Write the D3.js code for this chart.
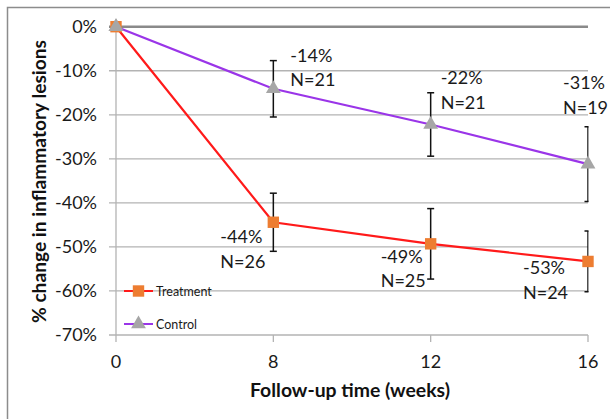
<!DOCTYPE html>
<html>
<head>
<meta charset="utf-8">
<script src="https://cdn.jsdelivr.net/npm/d3@7"></script>
<style>
  body { margin: 0; background: #fff; }
  svg { display: block; font-family: Lato, "Open Sans", sans-serif; }
</style>
</head>
<body>
<svg width="610" height="419"></svg>
<script>
const weeks = ["0", "8", "12", "16"];
const yTicks = [0, -10, -20, -30, -40, -50, -60, -70];

const treatment = [0, -44.4, -49.3, -53.3];
const treatmentErr = [0, 6.6, 8.0, 6.9];
const treatmentLabels = ["", "-44%", "-49%", "-53%"];
const treatmentN = ["", "N=26", "N=25", "N=24"];

const control = [0, -14.1, -22.2, -31.2];
const controlErr = [0, 6.4, 7.2, 8.5];
const controlLabels = ["", "-14%", "-22%", "-31%"];
const controlN = ["", "N=21", "N=21", "N=19"];

const svg = d3.select("svg");

const x = d3.scalePoint().domain(weeks).range([116, 588]);
const y = d3.scaleLinear().domain([0, -70]).range([26.7, 335]);

// outer chart frame (only top and left edges are in view)
svg.append("path")
    .attr("d", "M7.5,419V7.5H610")
    .attr("fill", "none")
    .attr("stroke", "#8c8c8c")
    .attr("stroke-width", 1.5);

// gridlines
svg.append("g")
    .selectAll("line")
    .data(yTicks)
    .join("line")
    .attr("x1", 109)
    .attr("x2", 588)
    .attr("y1", d => y(d))
    .attr("y2", d => y(d))
    .attr("stroke", d => d === 0 ? "#8a8a8a" : "#b3b3b3")
    .attr("stroke-width", d => d === 0 ? 2.5 : 1.3);

// y axis line and x ticks
svg.append("line")
    .attr("x1", x("0")).attr("x2", x("0"))
    .attr("y1", y(0)).attr("y2", y(-70) + 7)
    .attr("stroke", "#b3b3b3")
    .attr("stroke-width", 1.3);

svg.append("g")
    .selectAll("line")
    .data(weeks.slice(1))
    .join("line")
    .attr("x1", d => x(d)).attr("x2", d => x(d))
    .attr("y1", y(-70)).attr("y2", y(-70) + 7)
    .attr("stroke", "#b3b3b3")
    .attr("stroke-width", 1.3);

svg.append("g")
    .selectAll("text")
    .data(yTicks)
    .join("text")
    .attr("x", 97)
    .attr("y", d => y(d))
    .attr("dy", "0.36em")
    .attr("text-anchor", "end")
    .attr("font-size", 18)
    .attr("fill", "#1a1a1a")
    .text(d => d + "%");

svg.append("g")
    .selectAll("text")
    .data(weeks)
    .join("text")
    .attr("x", d => x(d))
    .attr("y", 368)
    .attr("text-anchor", "middle")
    .attr("font-size", 18)
    .attr("fill", "#1a1a1a")
    .text(d => d);

// axis titles
svg.append("text")
    .attr("x", 350)
    .attr("y", 397)
    .attr("text-anchor", "middle")
    .attr("font-size", 18)
    .attr("font-weight", "bold")
    .attr("fill", "#111")
    .attr("textLength", 200)
    .attr("lengthAdjust", "spacingAndGlyphs")
    .text("Follow-up time (weeks)");

svg.append("text")
    .attr("transform", "translate(46,181.5) rotate(-90)")
    .attr("text-anchor", "middle")
    .attr("font-size", 18)
    .attr("font-weight", "bold")
    .attr("fill", "#111")
    .attr("textLength", 283)
    .attr("lengthAdjust", "spacingAndGlyphs")
    .text("% change in inflammatory lesions");

const plot = svg.append("g");

svg.append("clipPath").attr("id", "clip")
    .append("rect")
    .attr("x", 100).attr("y", 0).attr("width", 488.5).attr("height", 419);

const line = d3.line()
    .x((d, i) => x(weeks[i]))
    .y(d => y(d));

function series(values, errs, color) {
    const pts = values.map((v, i) => ({ wk: weeks[i], v: v, e: errs[i] }));
    const g = plot.append("g");
    g.append("path")
        .datum(values)
        .attr("d", line)
        .attr("fill", "none")
        .attr("stroke", color)
        .attr("stroke-width", 2.2);
    const eb = g.append("g")
        .attr("clip-path", "url(#clip)")
        .selectAll("g")
        .data(pts.filter(p => p.e > 0))
        .join("g")
        .attr("stroke", "#111")
        .attr("stroke-width", 1.5);
    eb.append("line")
        .attr("x1", d => x(d.wk)).attr("x2", d => x(d.wk))
        .attr("y1", d => y(d.v + d.e)).attr("y2", d => y(d.v - d.e));
    eb.append("line")
        .attr("x1", d => x(d.wk) - 3.5).attr("x2", d => x(d.wk) + 3.5)
        .attr("y1", d => y(d.v + d.e)).attr("y2", d => y(d.v + d.e));
    eb.append("line")
        .attr("x1", d => x(d.wk) - 3.5).attr("x2", d => x(d.wk) + 3.5)
        .attr("y1", d => y(d.v - d.e)).attr("y2", d => y(d.v - d.e));
    return pts;
}

const cPts = series(control, controlErr, "#9a35e8");
const tPts = series(treatment, treatmentErr, "#ff1a1a");

const square = d3.symbol().type(d3.symbolSquare).size(130);
const triangle = d3.symbol().type(d3.symbolTriangle).size(95);

plot.append("g")
    .selectAll("path")
    .data(cPts)
    .join("path")
    .attr("transform", d => `translate(${x(d.wk)},${y(d.v)})`)
    .attr("d", triangle)
    .attr("fill", "#a6a6a6");

plot.append("g")
    .selectAll("path")
    .data(tPts.slice(1))
    .join("path")
    .attr("transform", d => `translate(${x(d.wk)},${y(d.v)})`)
    .attr("d", square)
    .attr("fill", "#ed7d31");

// first point: square with triangle on top, as in the source
plot.append("path")
    .attr("transform", `translate(${x(weeks[0])},${y(treatment[0])})`)
    .attr("d", square)
    .attr("fill", "#ed7d31");
plot.append("path")
    .attr("transform", `translate(${x(weeks[0])},${y(control[0])})`)
    .attr("d", triangle)
    .attr("fill", "#a6a6a6");

// data labels (offsets from each point)
const cOff = [null, [17, -27], [10, -40], [-25, -75]];
const tOff = [null, [-53, 21], [-50, 19], [-65, 13]];

function labels(pts, pct, ns, off) {
    const g = plot.append("g")
        .attr("font-size", 18)
        .attr("fill", "#1a1a1a");
    pts.forEach((p, i) => {
        if (!off[i]) return;
        const lx = x(p.wk) + off[i][0];
        const ly = y(p.v) + off[i][1];
        g.append("text").attr("x", lx).attr("y", ly).text(pct[i]);
        g.append("text").attr("x", lx).attr("y", ly + 24.5).text(ns[i]);
    });
}

labels(cPts, controlLabels, controlN, cOff);
labels(tPts, treatmentLabels, treatmentN, tOff);

// legend
const legend = svg.append("g").attr("font-size", 12.5).attr("fill", "#1a1a1a");
const legendItems = [
    { name: "Treatment", color: "#ff1a1a", fill: "#ed7d31", sym: square, yy: 291 },
    { name: "Control", color: "#9a35e8", fill: "#a6a6a6", sym: triangle, yy: 324 }
];
legendItems.forEach(d => {
    legend.append("line")
        .attr("x1", 124).attr("x2", 153)
        .attr("y1", d.yy).attr("y2", d.yy)
        .attr("stroke", d.color)
        .attr("stroke-width", 2);
    legend.append("path")
        .attr("transform", `translate(138.5,${d.yy})`)
        .attr("d", d.sym)
        .attr("fill", d.fill);
    legend.append("text")
        .attr("x", 156)
        .attr("y", d.yy)
        .attr("dy", "0.36em")
        .text(d.name);
});
</script>
</body>
</html>
